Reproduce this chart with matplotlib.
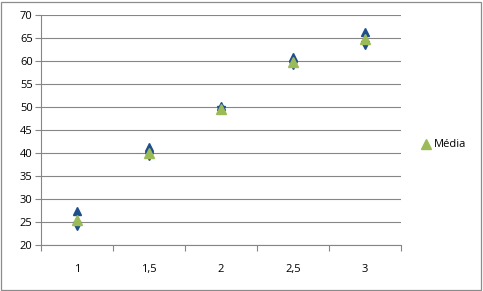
import matplotlib
matplotlib.use("Agg")
import matplotlib.pyplot as plt
from matplotlib.patches import Rectangle

categories = ["1", "1,5", "2", "2,5", "3"]
maximo = [27.4, 41.3, 50.2, 60.9, 66.4]
minimo = [24.2, 39.4, 49.4, 59.1, 63.4]
media = [25.5, 40.0, 49.5, 59.8, 64.8]

plt.rcParams['font.family'] = ['Open Sans', 'DejaVu Sans']
fig = plt.figure(figsize=(4.83, 2.91), dpi=100)
fig.patches.append(Rectangle((0.003, 0.004), 0.992, 0.99, transform=fig.transFigure,
                             fill=False, edgecolor='#8c8c8c', linewidth=0.9))
ax = fig.add_axes([41/483, 1-245/291, 360/483, 230/291])

x = list(range(len(categories)))
blue = '#1F4E8C'
green = '#9BBB59'
ax.plot(x, maximo, linestyle='none', marker='^', markersize=5.5, color=blue, zorder=3)
ax.plot(x, minimo, linestyle='none', marker='v', markersize=5.5, color=blue, zorder=3)
ax.plot(x, media, linestyle='none', marker='^', markersize=6.5, color=green, zorder=4, label='Média')

ax.set_xlim(-0.5, len(categories) - 0.5)
ax.set_ylim(20, 70)
ax.set_yticks(range(20, 71, 5))
ax.set_xticks(x)
ax.set_xticklabels(categories)
ax.set_xticks([i - 0.5 for i in range(len(categories) + 1)], minor=True)
ax.tick_params(axis='x', which='major', length=0, pad=14, labelsize=8)
ax.tick_params(axis='x', which='minor', length=4, color='#868686', width=0.8)
ax.tick_params(axis='y', length=4, color='#868686', width=0.8, labelsize=8, pad=2)
ax.grid(axis='y', color='#868686', linewidth=0.8)
ax.set_axisbelow(True)
for s in ['top', 'right']:
    ax.spines[s].set_visible(False)
for s in ['left', 'bottom']:
    ax.spines[s].set_color('#868686')
    ax.spines[s].set_linewidth(0.8)

leg = ax.legend(loc='center left', bbox_to_anchor=(1.03, 0.435), frameon=False,
                fontsize=8, handlelength=0.8, handletextpad=0.3, markerscale=1.0)

fig.savefig('out.png', dpi=100)
